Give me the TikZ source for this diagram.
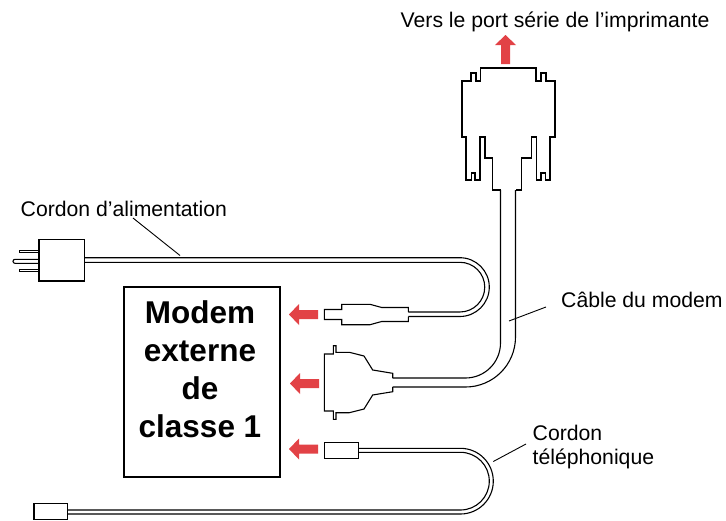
\documentclass[tikz,border=0pt]{standalone}
\usepackage{fontspec}
\setmainfont{Liberation Sans}
\usepackage{tikz}
\usetikzlibrary{positioning}
\definecolor{arrowred}{RGB}{226,66,70}
\tikzset{
    wire/.style={
        line width=1.1pt,
        black,
        line join=miter
    },
    leader/.style={
        line width=0.9pt,
        black
    },
    % texte des legendes
    lbl/.style={
        inner sep=0pt,
        anchor=base west,
        font=\fontsize{21.2}{25}\selectfont
    },
    modemlbl/.style={
        inner sep=0pt,
        align=center,
        font=\fontsize{31.5}{38}\selectfont\bfseries
    },
    redarrow/.pic={
        \fill[arrowred] (0,0) -- (10,-10.5) -- (10,-4.5) -- (29,-4.5)
        -- (29,4.5) -- (10,4.5) -- (10,10.5) -- cycle;
    }
}

\begin{document}
\begin{tikzpicture}[x=1pt,y=-1pt]
    \useasboundingbox (0,0) rectangle (726,520);
    \clip (0,0) rectangle (726,520);

    % modem
    \draw[wire] (124,287) rectangle (280,477);
    \node[modemlbl,anchor=north] (modem) at (200,300.5) {Modem\\externe\\de\\classe 1};

    % connecteur de l'imprimante
    \draw[wire] (500.5,190) -- (492.5,190) -- (492.5,158) -- (485,158) -- (485,137)
    -- (480,137) -- (480,180) -- (475,180) -- (475,173) -- (471.5,173) -- (471.5,180)
    -- (466,180) -- (466,137) -- (462,137) -- (462,81) -- (471,81) -- (471,73)
    -- (476,73) -- (476,81) -- (480.5,81) -- (480.5,68) -- (536,68) -- (536,81)
    -- (541,81) -- (541,73) -- (546,73) -- (546,81) -- (555,81) -- (555,137)
    -- (550,137) -- (550,180) -- (545.5,180) -- (545.5,173) -- (541,173) -- (541,180)
    -- (536.5,180) -- (536.5,137) -- (531.5,137) -- (531.5,158) -- (521.5,158)
    -- (521.5,190) -- (515.5,190);

    % cable du modem
    \draw[wire,rounded corners=50] (515.5,190) -- (515.5,387) -- (392.7,387);
    \draw[wire,rounded corners=35] (500.5,190) -- (500.5,378) -- (392.7,378);
    \draw[wire] (392.7,378) -- (392.7,373.3) -- (372.7,370) -- (364,356) -- (349.3,352.3)
    -- (336,352.3) -- (336,345.7) -- (333.3,345.7) -- (333.3,354) -- (324.3,354)
    -- (324.3,411) -- (333.3,411) -- (333.3,419.3) -- (336,419.3) -- (336,412.7)
    -- (349.3,412.7) -- (364,409) -- (372.7,395) -- (392.7,391.7) -- (392.7,387);

    % cordon d'alimentation
    \draw[wire] (39,239.3) rectangle (84.3,281);
    \draw[wire] (39,250.3) -- (19.3,250.3) -- (19.3,252.7) -- (39,252.7);
    \draw[wire,rounded corners=2] (39,259.3) -- (13,259.3) -- (13,263.3) -- (39,263.3);
    \draw[wire] (39,269.2) -- (19.3,269.2) -- (19.3,271.6) -- (39,271.6);
    \draw[wire,rounded corners=29.4] (84.3,257.7) -- (489.3,257.7) -- (489.3,316.5) -- (408.3,316.5);
    \draw[wire,rounded corners=24.85] (84.3,262.3) -- (484.75,262.3) -- (484.75,312) -- (408.3,312);
    \draw[wire] (408.3,312) -- (408.3,307.5) -- (381.7,307.5) -- (370,304.3) -- (341.7,304.3)
    -- (341.7,309.5) -- (324.3,309.5) -- (324.3,319.5) -- (341.7,319.5) -- (341.7,324.7)
    -- (370,324.7) -- (381.7,321.5) -- (408.3,321.5) -- (408.3,316.5);

    % cordon telephonique
    \draw[wire] (324.3,442.7) rectangle (358.3,458.3);
    \draw[wire,rounded corners=32.85] (358.3,448.3) -- (493.3,448.3) -- (493.3,514) -- (67.7,514);
    \draw[wire,rounded corners=28.85] (358.3,452.3) -- (489.3,452.3) -- (489.3,510) -- (67.7,510);
    \draw[wire] (34,503.5) rectangle (67.7,519.2);

    % fleches rouges
    \pic[rotate=-90] at (505.5,35) {redarrow};
    \pic at (289,314.5) {redarrow};
    \pic at (290,383.5) {redarrow};
    \pic at (289,449) {redarrow};

    % legendes
    \node[lbl] (vers) at (400.5,27.5) {Vers le port série de l’imprimante};
    \node[lbl] (alim) at (20.5,216) {Cordon d’alimentation};
    \node[lbl] (cable) at (561,307.3) {Câble du modem};
    \node[lbl] (tel) at (532.5,440) {Cordon};
    \node[lbl] (tel2) at (532.5,464.5) {téléphonique};

    \path (133,218) coordinate (alim-a) (180,255.5) coordinate (alim-b)
    (546,307) coordinate (cable-a) (509,321) coordinate (cable-b)
    (526,444) coordinate (tel-a) (493.3,461.5) coordinate (tel-b);
    \draw[leader] (alim-a) -- (alim-b);
    \draw[leader] (cable-a) -- (cable-b);
    \draw[leader] (tel-a) -- (tel-b);
\end{tikzpicture}
\end{document}
